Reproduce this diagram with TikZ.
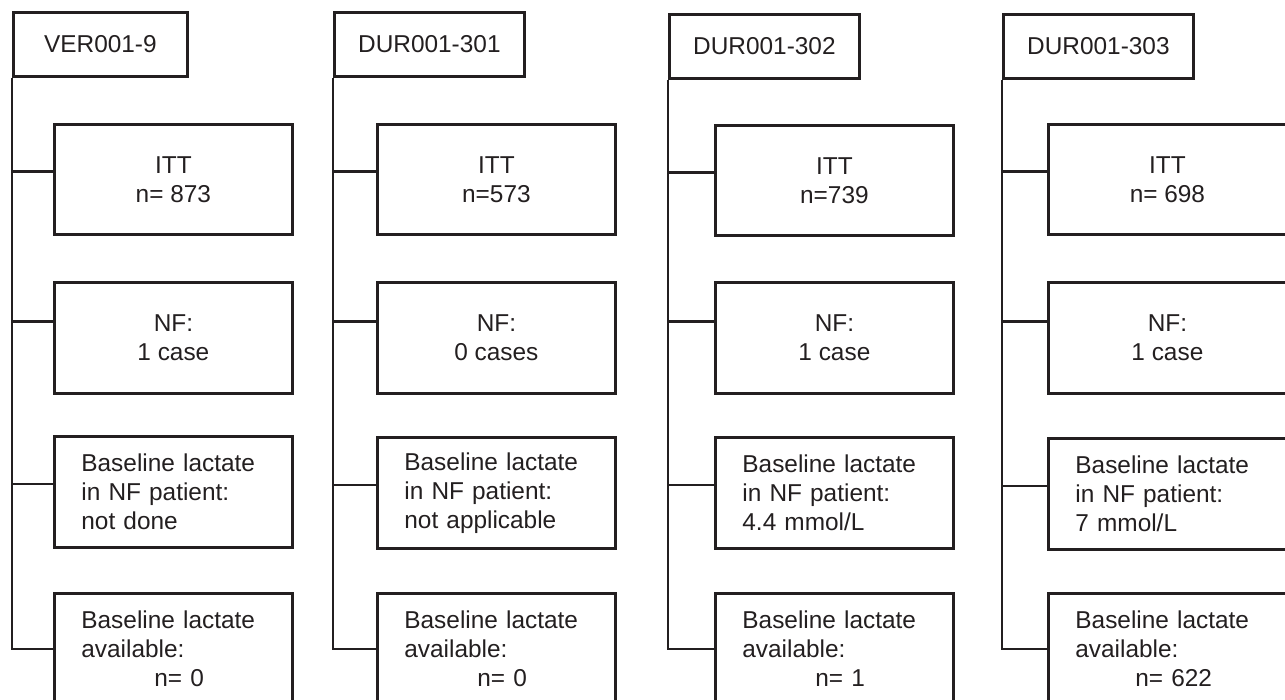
\documentclass[tikz,border=0pt]{standalone}
\usepackage{fontspec}
\setmainfont{Liberation Sans}
\usepackage{tikz}
\usetikzlibrary{calc}
\usetikzlibrary{positioning}
\definecolor{ink}{HTML}{231F20}
\tikzset{link/.style={draw=ink,line width=1.4pt}}
\tikzset{study/.style={rectangle,draw=ink,line width=1.4pt,text=ink,minimum height=32pt,inner sep=0pt,anchor=north west,font=\fontsize{12.2}{14.5}\selectfont}}
\tikzset{result/.style={rectangle,draw=ink,line width=1.4pt,text=ink,minimum width=119pt,minimum height=55.5pt,inner sep=0pt,align=center,anchor=north west,font=\fontsize{12.2}{14.5}\selectfont}}
\tikzset{lactate/.style={rectangle,draw=ink,line width=1.4pt,text=ink,minimum height=55.5pt,text width=92pt,inner xsep=13.5pt,inner ysep=0pt,align=left,anchor=north west,font=\fontsize{12.2}{14.5}\selectfont}}

\begin{document}
\begin{tikzpicture}[x=0.5pt,y=-0.5pt]
\useasboundingbox (0,0) rectangle (1285,700);

% study headers
\node[study,minimum width=87pt] (H1) at (12,11) {VER001-9};
\node[study,minimum width=95pt] (H2) at (333,11) {DUR001-301};
\node[study,minimum width=95pt] (H3) at (668,13) {DUR001-302};
\node[study,minimum width=95pt] (H4) at (1002,13) {DUR001-303};

% ITT
\node[result,minimum height=55pt] (I1) at (53,123) {ITT\\n= 873};
\node[result,minimum height=55pt] (I2) at (376,123) {ITT\\n=573};
\node[result,minimum height=55pt] (I3) at (714,124) {ITT\\n=739};
\node[result,minimum height=55pt] (I4) at (1047,123) {ITT\\n= 698};

% NF cases
\node[result] (N1) at (53,281) {NF:\\1 case};
\node[result] (N2) at (376,281) {NF:\\0 cases};
\node[result] (N3) at (714,281) {NF:\\1 case};
\node[result] (N4) at (1047,281) {NF:\\1 case};

% lactate in NF patient
\node[lactate] (L1) at (53,435) {Baseline lactate\\in NF patient:\\not done};
\node[lactate] (L2) at (376,436) {Baseline lactate\\in NF patient:\\not applicable};
\node[lactate] (L3) at (714,436) {Baseline lactate\\in NF patient:\\4.4 mmol/L};
\node[lactate] (L4) at (1047,437) {Baseline lactate\\in NF patient:\\7 mmol/L};

% lactate available
\node[lactate] (A1) at (53,592) {Baseline lactate\\available:\\\hspace*{36.5pt}n= 0};
\node[lactate] (A2) at (376,592) {Baseline lactate\\available:\\\hspace*{36.5pt}n= 0};
\node[lactate] (A3) at (714,592) {Baseline lactate\\available:\\\hspace*{36.5pt}n= 1};
\node[lactate] (A4) at (1047,592) {Baseline lactate\\available:\\\hspace*{30pt}n= 622};

\foreach \c in {1,...,4}{
  \coordinate (i\c) at ([yshift=4pt]I\c.west);
  \coordinate (n\c) at ([yshift=8pt]N\c.west);
  \coordinate (l\c) at ([yshift=4pt]L\c.west);
  \draw[link] (H\c.south west) |- (A\c.west);
  \draw[link] (i\c -| H\c.south west) -- (i\c);
  \draw[link] (n\c -| H\c.south west) -- (n\c);
  \draw[link] (l\c -| H\c.south west) -- (l\c);
}
\end{tikzpicture}
\end{document}
